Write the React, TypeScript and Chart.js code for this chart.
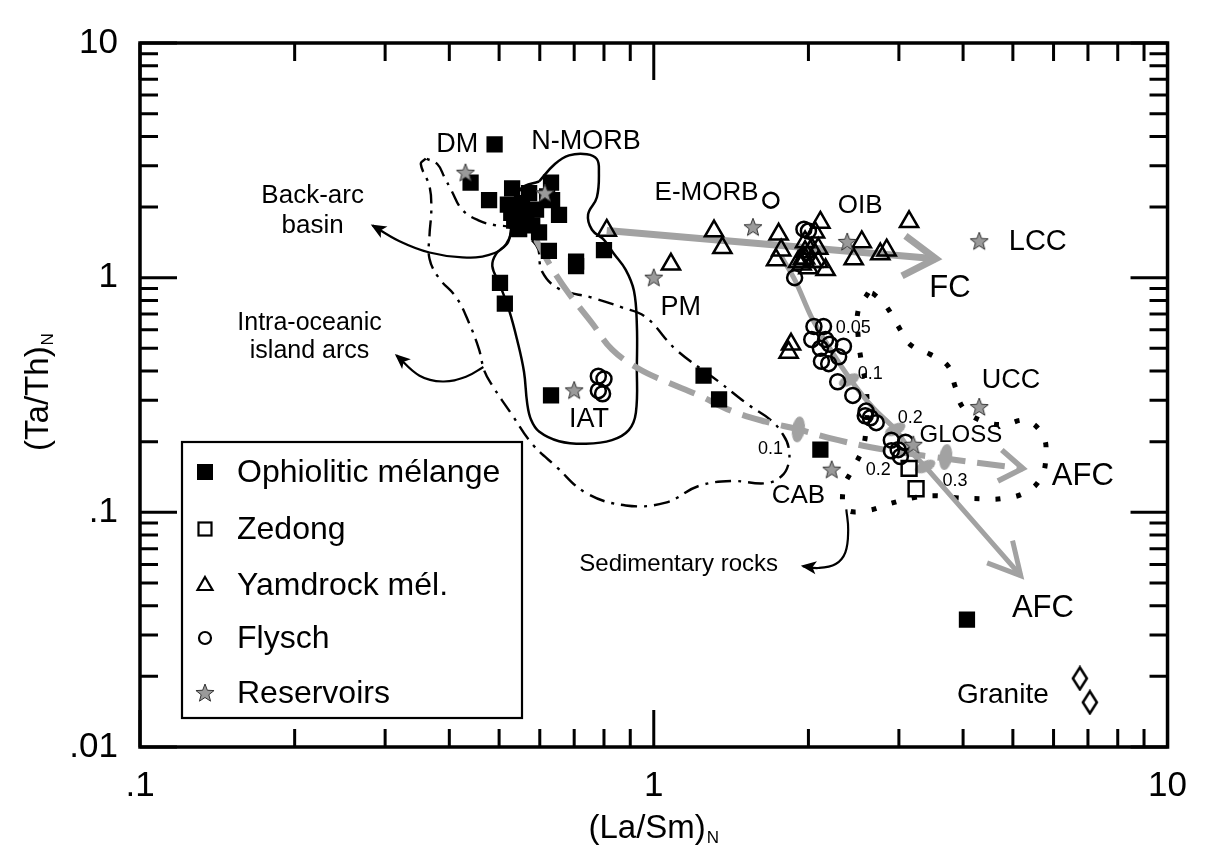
import { useEffect, useRef } from 'react';
import { Chart, registerables } from 'chart.js';

Chart.register(...registerables);

type Pt = [number, number];

const FONT = "'Liberation Sans', Arial, Helvetica, sans-serif";
const GRAY = '#a2a2a2';

// Sample groups as [(La/Sm)N, (Ta/Th)N]
const ophioliticMelange: Pt[] = [
  [0.49, 3.7], [0.44, 2.54], [0.478, 2.14], [0.53, 2.4], [0.631, 2.54], [0.634, 2.14],
  [0.528, 1.89], [0.554, 2.08], [0.58, 1.67], [0.598, 1.56], [0.547, 1.61], [0.62, 2.22],
  [0.572, 2.29], [0.52, 2.05], [0.545, 1.95], [0.565, 1.8], [0.59, 1.95], [0.535, 1.75],
  [0.654, 1.85], [0.625, 1.3], [0.706, 1.17], [0.706, 1.12], [0.8, 1.31],
  [0.502, 0.95], [0.513, 0.776], [0.631, 0.315], [1.25, 0.382], [1.34, 0.303],
  [2.11, 0.185], [4.07, 0.0349],
];
const zedong: Pt[] = [[3.14, 0.154], [3.24, 0.126]];
const yamdrockMelange: Pt[] = [
  [0.81, 1.59], [1.08, 1.14], [1.31, 1.58], [1.36, 1.34], [1.75, 1.53], [1.77, 1.31],
  [1.73, 1.19], [2.11, 1.72], [1.97, 1.42], [2.03, 1.33], [1.97, 1.21], [2.09, 1.17],
  [2.0, 1.1], [2.16, 1.08], [2.06, 1.56], [1.94, 1.14], [2.09, 1.33], [1.95, 1.2],
  [2.04, 1.17], [1.91, 1.17], [1.97, 1.29], [2.54, 1.42], [2.45, 1.2], [2.76, 1.26],
  [2.84, 1.31], [3.14, 1.73], [1.85, 0.52], [1.83, 0.48],
];
const flysch: Pt[] = [
  [1.69, 2.14], [1.88, 1.0], [1.96, 1.61], [2.0, 1.58],
  [0.78, 0.38], [0.8, 0.37], [0.78, 0.33], [0.795, 0.32],
  [2.05, 0.62], [2.14, 0.62], [2.03, 0.545], [2.16, 0.545], [2.11, 0.5], [2.2, 0.52],
  [2.34, 0.51], [2.29, 0.46], [2.12, 0.44], [2.19, 0.43], [2.28, 0.36], [2.44, 0.315],
  [2.59, 0.27], [2.64, 0.253], [2.71, 0.241], [2.58, 0.258], [2.9, 0.203], [3.09, 0.199],
  [2.9, 0.183], [3.02, 0.173], [2.99, 0.185],
];
const reservoirs: Pt[] = [
  [0.43, 2.8], [0.614, 2.29], [1.0, 1.0], [1.56, 1.64], [2.38, 1.42], [4.3, 1.43],
  [4.3, 0.281], [3.2, 0.194], [2.22, 0.152], [0.7, 0.331],
];
const granite: Pt[] = [[6.75, 0.0196], [7.06, 0.0155]];

// Field outlines
const nMorbField: Pt[] = [
  [0.598, 2.57], [0.642, 3.05], [0.684, 3.32], [0.741, 3.36], [0.775, 3.2], [0.782, 2.85],
  [0.775, 2.2], [0.745, 1.86], [0.758, 1.6], [0.8, 1.45], [0.835, 1.27], [0.882, 1.08],
  [0.915, 0.879], [0.927, 0.628], [0.927, 0.42], [0.923, 0.266], [0.894, 0.224], [0.829, 0.203],
  [0.738, 0.196], [0.654, 0.201], [0.598, 0.221], [0.577, 0.248], [0.567, 0.292], [0.559, 0.397],
  [0.542, 0.544], [0.523, 0.726], [0.5, 0.949], [0.485, 1.12], [0.493, 1.26], [0.516, 1.39],
  [0.528, 1.56], [0.535, 1.98], [0.552, 2.4], [0.598, 2.57],
];
const islandArcField: Pt[] = [
  [0.36, 3.22], [0.352, 3.05], [0.366, 2.45], [0.369, 1.945], [0.366, 1.517], [0.366, 1.205],
  [0.382, 0.995], [0.413, 0.822], [0.437, 0.641], [0.457, 0.495], [0.468, 0.401], [0.485, 0.347],
  [0.53, 0.26], [0.58, 0.1955], [0.645, 0.157], [0.738, 0.121], [0.882, 0.107], [1.055, 0.11],
  [1.223, 0.1295], [1.417, 0.136], [1.65, 0.133], [1.772, 0.1425], [1.829, 0.161], [1.829, 0.19],
  [1.788, 0.213], [1.695, 0.246], [1.529, 0.287], [1.337, 0.361], [1.103, 0.495], [0.965, 0.679],
  [0.867, 0.747], [0.758, 0.822], [0.654, 0.896], [0.606, 1.064], [0.59, 1.378], [0.523, 1.64],
  [0.493, 1.67], [0.457, 1.75], [0.424, 1.945], [0.4035, 2.36], [0.391, 2.69], [0.379, 3.05],
  [0.36, 3.22],
];
const sedimentField: Pt[] = [
  [2.615, 0.862], [2.5, 0.726], [2.5, 0.555], [2.535, 0.441], [2.58, 0.361], [2.603, 0.287],
  [2.592, 0.237], [2.557, 0.19], [2.445, 0.154], [2.339, 0.126], [2.37, 0.103], [2.615, 0.102],
  [2.885, 0.109], [3.198, 0.1154], [3.528, 0.1177], [3.876, 0.1154], [4.315, 0.1143],
  [4.739, 0.1143], [5.277, 0.1211], [5.667, 0.1398], [5.796, 0.1726], [5.718, 0.2131],
  [5.301, 0.246], [4.782, 0.2366], [4.334, 0.246], [4.0, 0.2786], [3.859, 0.344], [3.739, 0.42],
  [3.45, 0.4716], [3.155, 0.519], [2.99, 0.622], [2.835, 0.754], [2.674, 0.854], [2.615, 0.862],
];

// Differentiation trends
const fcTrend: Pt[] = [[0.81, 1.59], [3.54, 1.205]];
const afcSedimentTrend: Pt[] = [
  [1.772, 1.229], [1.887, 0.967], [2.027, 0.679], [2.207, 0.495], [2.424, 0.364],
  [2.674, 0.2786], [2.951, 0.2256], [3.17, 0.181], [3.375, 0.1568], [5.18, 0.0537],
];
const afcArcTrend: Pt[] = [
  [0.59, 1.446], [0.634, 1.095], [0.684, 0.854], [0.758, 0.641], [0.829, 0.495], [0.935, 0.409],
  [1.055, 0.361], [1.223, 0.3155], [1.417, 0.2707], [1.65, 0.2435], [1.912, 0.2256],
  [2.287, 0.203], [2.822, 0.1845], [3.466, 0.1726], [5.229, 0.1538],
];
const afcArcSteps: Pt[] = [[1.912, 0.2256], [3.7, 0.172]];
const afcSedimentSteps: Pt[] = [[2.4, 0.366], [2.951, 0.2256], [3.375, 0.1568]];

// Pointers from field names to their outlines
const backArcPointer: Pt[] = [
  [0.528, 1.64], [0.518, 1.39], [0.478, 1.25], [0.424, 1.22], [0.366, 1.28], [0.32, 1.43], [0.2835, 1.67],
];
const arcPointer: Pt[] = [[0.466, 0.416], [0.431, 0.378], [0.388, 0.361], [0.35, 0.382], [0.3155, 0.467]];
const sedimentPointer: Pt[] = [
  [2.37, 0.1029], [2.39, 0.0842], [2.36, 0.0675], [2.26, 0.0602], [2.09, 0.0579], [1.95, 0.059],
];

const xTickLabels: Record<number, string> = { [-1]: '.1', 0: '1', 1: '10' };
const yTickLabels: Record<number, string> = { [-2]: '.01', [-1]: '.1', 0: '1', 1: '10' };

const legendNames = ['Ophiolitic mélange', 'Zedong', 'Yamdrock mél.', 'Flysch', 'Reservoirs'];

type Label = { text: string; x: number; y: number; size: number };
const fieldLabels: Label[] = [
  { text: 'DM', x: 0.4146, y: 3.695, size: 27 },
  { text: 'N-MORB', x: 0.738, y: 3.8, size: 27 },
  { text: 'E-MORB', x: 1.267, y: 2.29, size: 26 },
  { text: 'OIB', x: 2.523, y: 2.02, size: 26 },
  { text: 'LCC', x: 5.59, y: 1.418, size: 29 },
  { text: 'FC', x: 3.77, y: 0.896, size: 31 },
  { text: 'PM', x: 1.128, y: 0.747, size: 27 },
  { text: 'UCC', x: 4.96, y: 0.364, size: 27 },
  { text: 'GLOSS', x: 3.96, y: 0.213, size: 24 },
  { text: 'AFC', x: 6.84, y: 0.1425, size: 31 },
  { text: 'AFC', x: 5.72, y: 0.0391, size: 31 },
  { text: 'CAB', x: 1.912, y: 0.1177, size: 26 },
  { text: 'IAT', x: 0.748, y: 0.248, size: 27 },
  { text: 'Granite', x: 4.78, y: 0.01653, size: 28 },
  { text: 'Sedimentary rocks', x: 1.118, y: 0.0602, size: 24 },
  { text: 'Back-arc\nbasin', x: 0.2168, y: 1.927, size: 26 },
  { text: 'Intra-oceanic\nisland arcs', x: 0.2138, y: 0.5577, size: 25 },
  { text: '0.05', x: 2.445, y: 0.611, size: 18 },
  { text: '0.1', x: 2.638, y: 0.389, size: 18 },
  { text: '0.2', x: 3.155, y: 0.253, size: 18 },
  { text: '0.3', x: 3.859, y: 0.136, size: 18 },
  { text: '0.2', x: 2.735, y: 0.152, size: 18 },
  { text: '0.1', x: 1.687, y: 0.186, size: 18 },
];

const toXY = (pts: Pt[]) => pts.map(([x, y]) => ({ x, y }));

function makeCanvas(w: number, h: number, draw: (c: CanvasRenderingContext2D) => void) {
  const c = document.createElement('canvas');
  c.width = w;
  c.height = h;
  draw(c.getContext('2d')!);
  return c;
}

function starPath(c: CanvasRenderingContext2D, cx: number, cy: number, ro: number, ri: number) {
  c.beginPath();
  for (let i = 0; i < 10; i++) {
    const r = i % 2 === 0 ? ro : ri;
    const a = -Math.PI / 2 + (i * Math.PI) / 5;
    const px = cx + r * Math.cos(a);
    const py = cy + r * Math.sin(a);
    if (i === 0) c.moveTo(px, py);
    else c.lineTo(px, py);
  }
  c.closePath();
}

function tickLabel(map: Record<number, string>) {
  return (v: any) => {
    const l = Math.log10(Number(v));
    const k = Math.round(l);
    return Math.abs(l - k) < 1e-9 ? map[k] ?? '' : '';
  };
}

function drawSubscripted(
  ctx: CanvasRenderingContext2D, main: string, sub: string, cx: number, cy: number, size: number, subSize: number,
) {
  ctx.font = `${size}px ${FONT}`;
  const w1 = ctx.measureText(main).width;
  ctx.font = `${subSize}px ${FONT}`;
  const w2 = ctx.measureText(sub).width;
  const start = cx - (w1 + w2 + 1) / 2;
  ctx.textAlign = 'left';
  ctx.textBaseline = 'alphabetic';
  ctx.font = `${size}px ${FONT}`;
  ctx.fillText(main, start, cy + size * 0.36);
  ctx.font = `${subSize}px ${FONT}`;
  ctx.fillText(sub, start + w1 + 1, cy + size * 0.36 + subSize * 0.3);
}

export default function App() {
  const ref = useRef<HTMLCanvasElement>(null);

  useEffect(() => {
    const canvas = ref.current;
    if (!canvas) return;

    const starImg = makeCanvas(22, 22, (c) => {
      starPath(c, 11, 11.5, 9.5, 4);
      c.fillStyle = '#9a9a9a';
      c.fill();
      c.lineWidth = 1;
      c.strokeStyle = '#333';
      c.stroke();
    });
    const diamondImg = makeCanvas(18, 26, (c) => {
      c.beginPath();
      c.moveTo(9, 2);
      c.lineTo(16, 13);
      c.lineTo(9, 24);
      c.lineTo(2, 13);
      c.closePath();
      c.lineWidth = 2.5;
      c.strokeStyle = '#000';
      c.stroke();
    });
    const bigEllipseImg = makeCanvas(28, 14, (c) => {
      c.beginPath();
      c.ellipse(14, 7, 13, 6.5, 0, 0, Math.PI * 2);
      c.fillStyle = GRAY;
      c.fill();
    });
    const ellipseImg = makeCanvas(24, 12, (c) => {
      c.beginPath();
      c.ellipse(12, 6, 11, 5.5, 0, 0, Math.PI * 2);
      c.fillStyle = GRAY;
      c.fill();
    });

    const curve = (pts: Pt[], color: string, width: number, dash: number[], tension: number, extra: any = {}) => ({
      data: toXY(pts),
      showLine: true,
      borderColor: color,
      borderWidth: width,
      borderDash: dash,
      pointRadius: 0,
      pointHoverRadius: 0,
      tension,
      fill: false,
      order: 3,
      ...extra,
    });

    const markers = (pts: Pt[], extra: any) => ({
      data: toXY(pts),
      showLine: false,
      order: 0,
      pointHoverRadius: 0,
      ...extra,
    });

    const datasets: any[] = [
      markers(reservoirs, { pointStyle: starImg, pointRadius: 6, order: -1 }),
      markers(ophioliticMelange, {
        pointStyle: 'rect', pointRadius: 11.5, backgroundColor: '#000', borderColor: '#000', borderWidth: 0,
      }),
      markers(zedong, {
        pointStyle: 'rect', pointRadius: 10.5, backgroundColor: 'rgba(0,0,0,0)', borderColor: '#000', borderWidth: 2.5,
      }),
      markers(yamdrockMelange, {
        pointStyle: 'triangle', pointRadius: 10.5, backgroundColor: 'rgba(0,0,0,0)', borderColor: '#000', borderWidth: 2.5,
      }),
      markers(flysch, {
        pointStyle: 'circle', pointRadius: 7.5, backgroundColor: 'rgba(0,0,0,0)', borderColor: '#000', borderWidth: 2.5,
      }),
      markers(granite, { pointStyle: diamondImg, pointRadius: 6 }),
      markers(afcArcSteps, { pointStyle: bigEllipseImg, pointRadius: 6, rotation: 98, order: 1 }),
      markers(afcSedimentSteps, { pointStyle: ellipseImg, pointRadius: 6, rotation: -25, order: 1 }),
      curve(fcTrend, GRAY, 7, [], 0, { arrow: { kind: 'open', len: 38, half: 32, width: 7, color: GRAY } }),
      curve(afcSedimentTrend, GRAY, 5, [], 0.3, { arrow: { kind: 'open', len: 36, half: 28, width: 5, color: GRAY } }),
      curve(afcArcTrend, GRAY, 6, [28, 12], 0.4, { arrow: { kind: 'open', len: 28, half: 34, width: 5.5, color: GRAY } }),
      curve(nMorbField, '#000', 2.5, [], 0.4),
      curve(islandArcField, '#000', 2.4, [16, 7, 3, 7], 0.4),
      curve(sedimentField, '#000', 5, [5, 16], 0.4),
      curve(backArcPointer, '#000', 2.2, [], 0.4, { arrow: { kind: 'solid', len: 15, half: 26, color: '#000' } }),
      curve(arcPointer, '#000', 2.2, [], 0.4, { arrow: { kind: 'solid', len: 15, half: 26, color: '#000' } }),
      curve(sedimentPointer, '#000', 2.2, [], 0.4, { arrow: { kind: 'solid', len: 15, half: 26, color: '#000' } }),
    ];

    const arrowPlugin = {
      id: 'trendArrows',
      afterDatasetsDraw(chart: any) {
        const ctx: CanvasRenderingContext2D = chart.ctx;
        chart.data.datasets.forEach((ds: any, i: number) => {
          if (!ds.arrow) return;
          const pts = chart.getDatasetMeta(i).data;
          const a = pts[pts.length - 2];
          const b = pts[pts.length - 1];
          const ang = Math.atan2(b.y - a.y, b.x - a.x);
          const h = (ds.arrow.half * Math.PI) / 180;
          const L = ds.arrow.len;
          const p1 = [b.x - L * Math.cos(ang - h), b.y - L * Math.sin(ang - h)];
          const p2 = [b.x - L * Math.cos(ang + h), b.y - L * Math.sin(ang + h)];
          ctx.save();
          ctx.setLineDash([]);
          if (ds.arrow.kind === 'open') {
            ctx.strokeStyle = ds.arrow.color;
            ctx.lineWidth = ds.arrow.width;
            ctx.lineCap = 'butt';
            ctx.lineJoin = 'miter';
            ctx.beginPath();
            ctx.moveTo(p1[0], p1[1]);
            ctx.lineTo(b.x, b.y);
            ctx.lineTo(p2[0], p2[1]);
            ctx.stroke();
          } else {
            ctx.fillStyle = ds.arrow.color;
            ctx.beginPath();
            ctx.moveTo(b.x + 2 * Math.cos(ang), b.y + 2 * Math.sin(ang));
            ctx.lineTo(p1[0], p1[1]);
            ctx.lineTo(b.x - L * 0.65 * Math.cos(ang), b.y - L * 0.65 * Math.sin(ang));
            ctx.lineTo(p2[0], p2[1]);
            ctx.closePath();
            ctx.fill();
          }
          ctx.restore();
        });
      },
    };

    const decorPlugin = {
      id: 'decor',
      afterDraw(chart: any) {
        const ctx: CanvasRenderingContext2D = chart.ctx;
        const a = chart.chartArea;
        const xs = chart.scales.x;
        const ys = chart.scales.y;
        ctx.save();

        // field and trend labels
        ctx.fillStyle = '#000';
        ctx.textAlign = 'center';
        ctx.textBaseline = 'middle';
        fieldLabels.forEach((lb) => {
          ctx.font = `${lb.size}px ${FONT}`;
          const lines = lb.text.split('\n');
          const lh = lb.size * 1.15;
          const cx = xs.getPixelForValue(lb.x);
          const cy = ys.getPixelForValue(lb.y);
          lines.forEach((t, j) => {
            ctx.fillText(t, cx, cy + (j - (lines.length - 1) / 2) * lh);
          });
        });

        // inward ticks on all four sides
        ctx.strokeStyle = '#000';
        ctx.lineWidth = 3;
        ctx.beginPath();
        for (let k = -1; k <= 1; k++) {
          for (let m = 1; m <= 9; m++) {
            const v = m * Math.pow(10, k);
            if (v > 10.0001) continue;
            const px = xs.getPixelForValue(v);
            const len = m === 1 ? 37 : 18;
            ctx.moveTo(px, a.bottom);
            ctx.lineTo(px, a.bottom - len);
            ctx.moveTo(px, a.top);
            ctx.lineTo(px, a.top + len);
          }
        }
        for (let k = -2; k <= 1; k++) {
          for (let m = 1; m <= 9; m++) {
            const v = m * Math.pow(10, k);
            if (v > 10.0001) continue;
            const py = ys.getPixelForValue(v);
            const len = m === 1 ? 37 : 18;
            ctx.moveTo(a.left, py);
            ctx.lineTo(a.left + len, py);
            ctx.moveTo(a.right, py);
            ctx.lineTo(a.right - len, py);
          }
        }
        ctx.stroke();
        ctx.lineWidth = 3.5;
        ctx.strokeRect(a.left, a.top, a.right - a.left, a.bottom - a.top);

        // axis titles
        drawSubscripted(ctx, '(La/Sm)', 'N', (a.left + a.right) / 2, 826, 33, 17);
        ctx.save();
        ctx.translate(36, 392);
        ctx.rotate(-Math.PI / 2);
        drawSubscripted(ctx, '(Ta/Th)', 'N', 0, 0, 33, 17);
        ctx.restore();

        // legend
        const bx = 182, by = 442, bw = 340, bh = 276;
        ctx.fillStyle = '#fff';
        ctx.fillRect(bx, by, bw, bh);
        ctx.lineWidth = 2.2;
        ctx.strokeStyle = '#000';
        ctx.strokeRect(bx, by, bw, bh);
        const rows = [472, 529, 585, 638, 693];
        const sx = 205;
        rows.forEach((ry, i) => {
          ctx.lineWidth = 2.2;
          ctx.strokeStyle = '#000';
          ctx.fillStyle = '#000';
          if (i === 0) {
            ctx.fillRect(sx - 8, ry - 8, 16, 16);
          } else if (i === 1) {
            ctx.strokeRect(sx - 6.5, ry - 6.5, 13, 13);
          } else if (i === 2) {
            ctx.beginPath();
            ctx.moveTo(sx, ry - 8);
            ctx.lineTo(sx + 7.5, ry + 5);
            ctx.lineTo(sx - 7.5, ry + 5);
            ctx.closePath();
            ctx.stroke();
          } else if (i === 3) {
            ctx.beginPath();
            ctx.arc(sx, ry, 6, 0, Math.PI * 2);
            ctx.stroke();
          } else {
            ctx.drawImage(starImg, sx - 11, ry - 11);
          }
          ctx.fillStyle = '#000';
          ctx.font = `32px ${FONT}`;
          ctx.textAlign = 'left';
          ctx.textBaseline = 'middle';
          ctx.fillText(legendNames[i], 237, ry + 1);
        });

        ctx.restore();
      },
    };

    const chart = new Chart(canvas, {
      type: 'scatter',
      data: { datasets },
      options: {
        animation: false,
        responsive: false,
        maintainAspectRatio: false,
        events: [],
        layout: { padding: { top: 26, right: 35, left: 0, bottom: 0 } },
        plugins: { legend: { display: false }, tooltip: { enabled: false } },
        scales: {
          x: {
            type: 'logarithmic',
            min: 0.1,
            max: 10,
            grid: { display: false, drawTicks: false },
            border: { display: false },
            ticks: {
              autoSkip: false,
              maxRotation: 0,
              padding: 18,
              color: '#000',
              font: { family: FONT, size: 35 },
              callback: tickLabel(xTickLabels),
            },
            afterFit: (s: any) => {
              s.height = 113;
            },
          },
          y: {
            type: 'logarithmic',
            min: 0.01,
            max: 10,
            grid: { display: false, drawTicks: false },
            border: { display: false },
            ticks: {
              autoSkip: false,
              padding: 22,
              color: '#000',
              font: { family: FONT, size: 35 },
              callback: tickLabel(yTickLabels),
            },
            afterFit: (s: any) => {
              s.width = 140;
            },
          },
        },
      } as any,
      plugins: [arrowPlugin, decorPlugin],
    });

    return () => chart.destroy();
  }, []);

  return (
    <div style={{ position: 'absolute', left: 0, top: 0, width: 1205, height: 860, background: '#fff' }}>
      <canvas ref={ref} width={1205} height={860} style={{ display: 'block' }} />
    </div>
  );
}
